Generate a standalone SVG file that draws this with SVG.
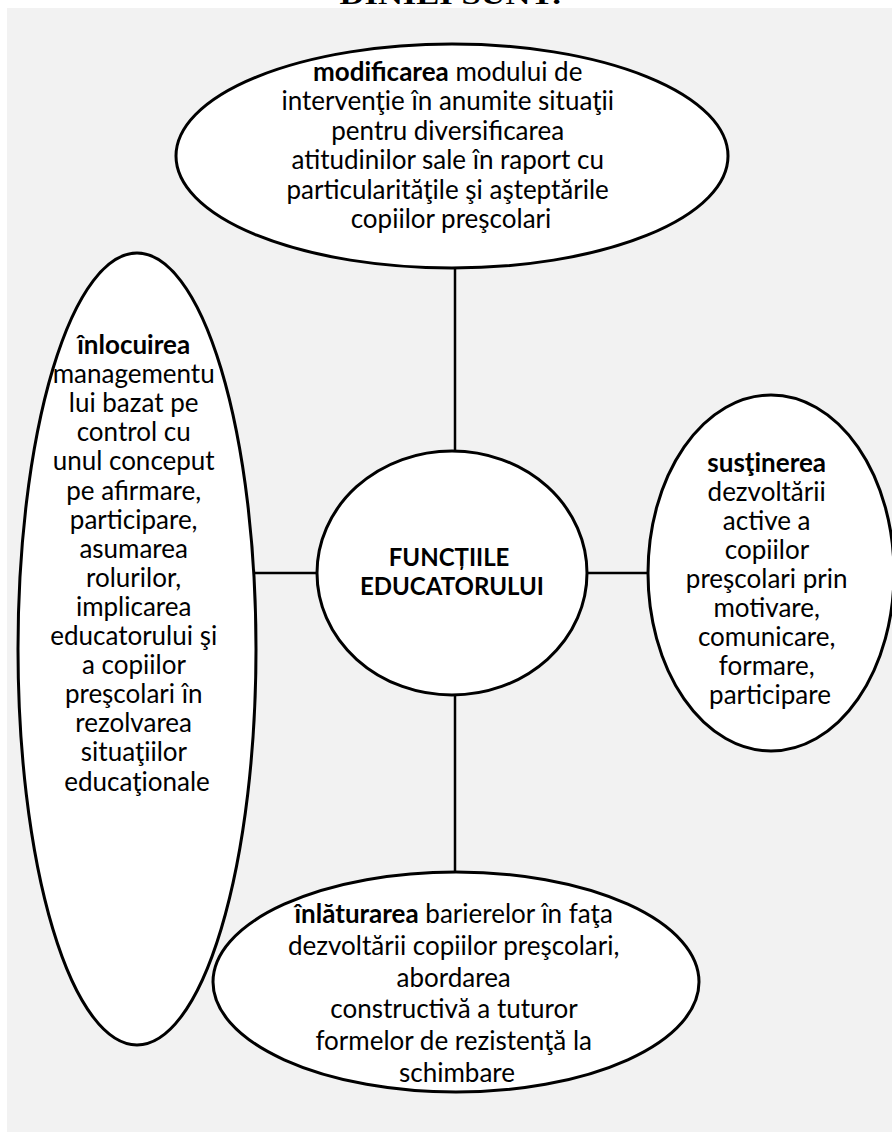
<svg xmlns="http://www.w3.org/2000/svg" width="892" height="1132" viewBox="0 0 892 1132">
  <style>
    .node { fill: #ffffff; stroke: #000000; stroke-width: 3; }
    .link { stroke: #000000; stroke-width: 2.5; fill: none; }
    .t { font-family: Lato, "Liberation Sans", sans-serif; font-size: 26px; fill: #000000; text-anchor: middle; }
    .c { font-family: Lato, "Liberation Sans", sans-serif; font-size: 24px; font-weight: bold; fill: #000000; text-anchor: middle; }
    .b { font-weight: bold; }
    .title { font-family: "Liberation Serif", serif; font-weight: bold; font-size: 28px; fill: #000000; text-anchor: middle; }
  </style>

  <rect x="0" y="0" width="892" height="1132" fill="#ffffff"/>
  <text class="title" x="451" y="4" textLength="223" lengthAdjust="spacingAndGlyphs">DINIEI SUNT:</text>
  <rect x="7" y="8" width="885" height="1124" fill="#f2f2f2"/>

  <g id="connectors">
    <line class="link" x1="455" y1="266" x2="455" y2="452"/>
    <line class="link" x1="455" y1="696" x2="455" y2="874"/>
    <line class="link" x1="255" y1="573" x2="318" y2="573"/>
    <line class="link" x1="586" y1="573" x2="650" y2="573"/>
  </g>

  <g id="node-top">
    <ellipse class="node" cx="452" cy="156" rx="276" ry="112"/>
    <text class="t" y="81">
      <tspan x="451" class="b">modificarea</tspan><tspan> modului de</tspan>
      <tspan x="451" dy="29.4">intervenţie în anumite situaţii</tspan>
      <tspan x="451" dy="29.4">pentru diversificarea</tspan>
      <tspan x="451" dy="29.4">atitudinilor sale în raport cu</tspan>
      <tspan x="451" dy="29.4">particularităţile şi aşteptările</tspan>
      <tspan x="451" dy="29.4">copiilor preşcolari</tspan>
    </text>
  </g>

  <g id="node-left">
    <ellipse class="node" cx="137" cy="649" rx="119" ry="396"/>
    <text class="t" y="354">
      <tspan x="137" class="b">înlocuirea</tspan>
      <tspan x="137" dy="29.1">managementu</tspan>
      <tspan x="137" dy="29.1">lui bazat pe</tspan>
      <tspan x="137" dy="29.1">control cu</tspan>
      <tspan x="137" dy="29.1">unul conceput</tspan>
      <tspan x="137" dy="29.1">pe afirmare,</tspan>
      <tspan x="137" dy="29.1">participare,</tspan>
      <tspan x="137" dy="29.1">asumarea</tspan>
      <tspan x="137" dy="29.1">rolurilor,</tspan>
      <tspan x="137" dy="29.1">implicarea</tspan>
      <tspan x="137" dy="29.1">educatorului şi</tspan>
      <tspan x="137" dy="29.1">a copiilor</tspan>
      <tspan x="137" dy="29.1">preşcolari în</tspan>
      <tspan x="137" dy="29.1">rezolvarea</tspan>
      <tspan x="137" dy="29.1">situaţiilor</tspan>
      <tspan x="137" dy="29.1">educaţionale</tspan>
    </text>
  </g>

  <g id="node-center">
    <ellipse class="node" cx="452" cy="573" rx="135" ry="122"/>
    <text class="c" y="566">
      <tspan x="452">FUNCȚIILE</tspan>
      <tspan x="452" dy="29">EDUCATORULUI</tspan>
    </text>
  </g>

  <g id="node-right">
    <ellipse class="node" cx="771" cy="573" rx="123" ry="178"/>
    <text class="t" y="472">
      <tspan x="770" class="b">susţinerea</tspan>
      <tspan x="770" dy="29">dezvoltării</tspan>
      <tspan x="770" dy="29">active a</tspan>
      <tspan x="770" dy="29">copiilor</tspan>
      <tspan x="770" dy="29">preşcolari prin</tspan>
      <tspan x="770" dy="29">motivare,</tspan>
      <tspan x="770" dy="29">comunicare,</tspan>
      <tspan x="770" dy="29">formare,</tspan>
      <tspan x="770" dy="29">participare</tspan>
    </text>
  </g>

  <g id="node-bottom">
    <ellipse class="node" cx="456" cy="982" rx="243" ry="110"/>
    <text class="t" y="923">
      <tspan x="457" class="b">înlăturarea</tspan><tspan> barierelor în faţa</tspan>
      <tspan x="457" dy="31.8">dezvoltării copiilor preşcolari,</tspan>
      <tspan x="457" dy="31.8">abordarea</tspan>
      <tspan x="457" dy="31.8">constructivă a tuturor</tspan>
      <tspan x="457" dy="31.8">formelor de rezistenţă la</tspan>
      <tspan x="457" dy="31.8">schimbare</tspan>
    </text>
  </g>
</svg>
